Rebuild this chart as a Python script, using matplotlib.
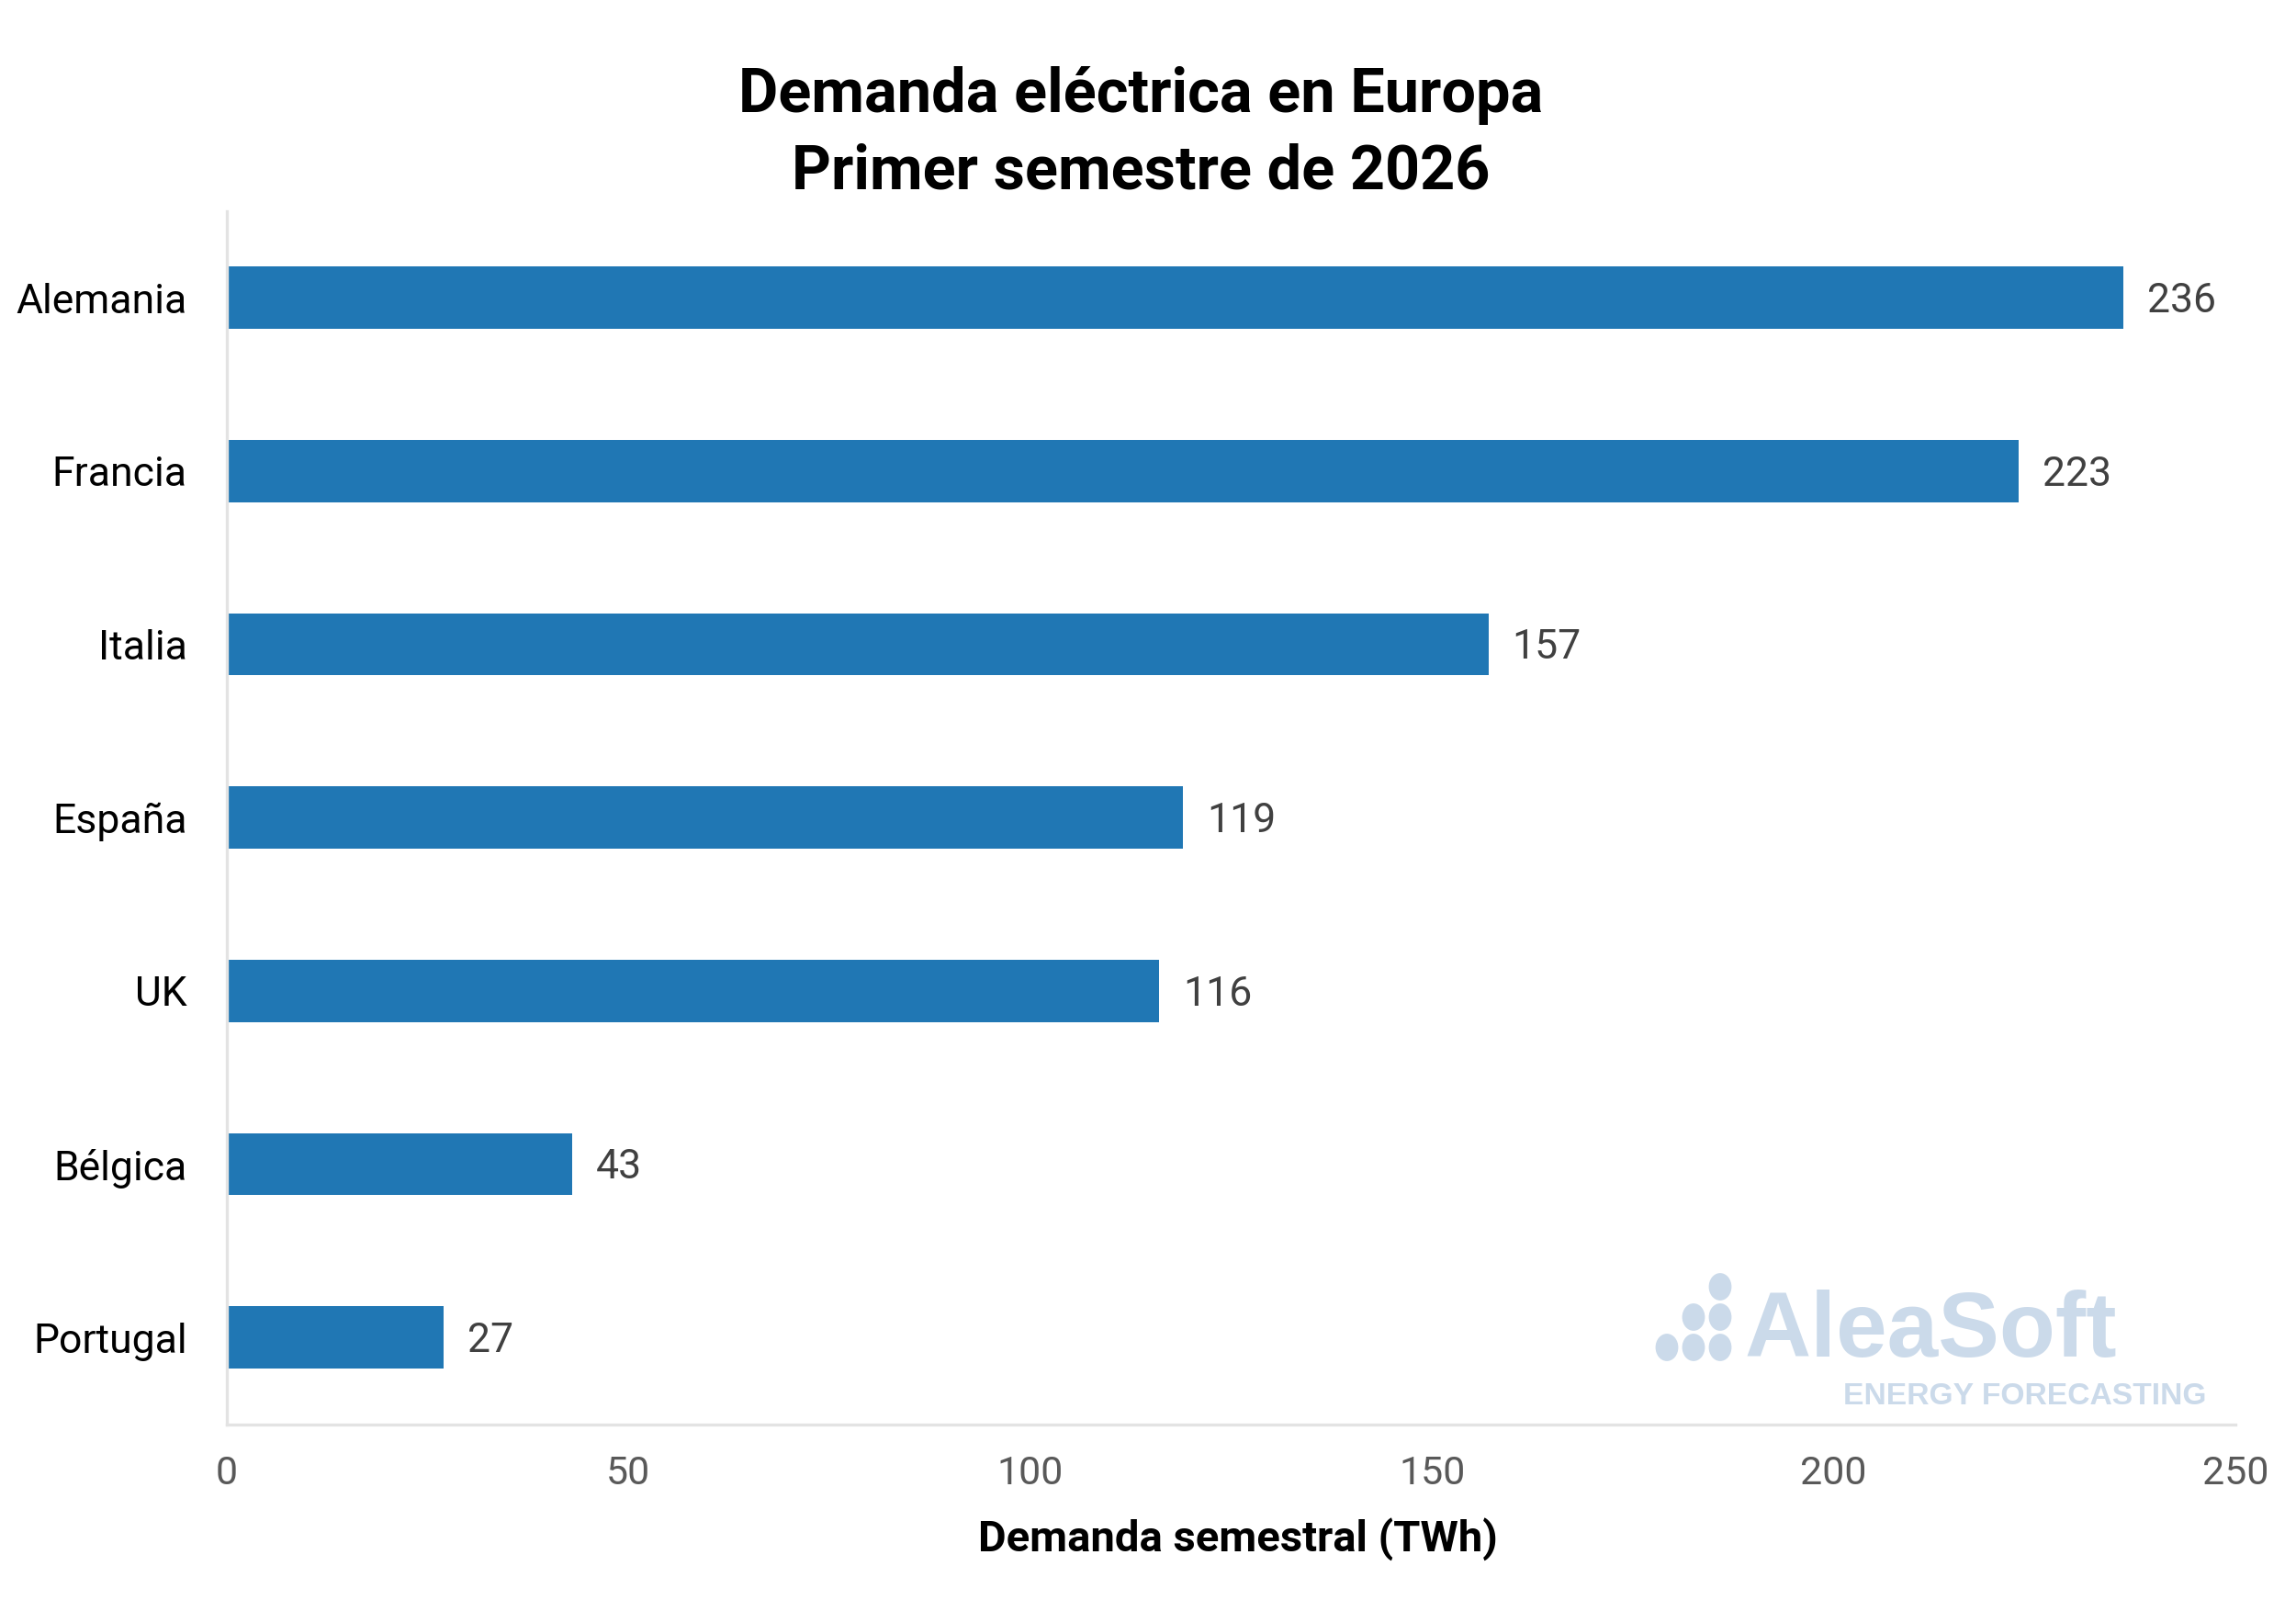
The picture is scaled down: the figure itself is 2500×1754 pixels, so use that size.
import numpy as np
import matplotlib
matplotlib.use("Agg")
import matplotlib.pyplot as plt
from matplotlib.patches import Ellipse

paises = ["Alemania", "Francia", "Italia", "España", "UK", "Bélgica", "Portugal"]
demanda = [236, 223, 157, 119, 116, 43, 27]
xticks = [0, 50, 100, 150, 200, 250]

titulo = "Demanda eléctrica en Europa\nPrimer semestre de 2026"
xlabel = "Demanda semestral (TWh)"

plt.rcParams['font.family'] = ['Roboto', 'DejaVu Sans']

fig = plt.figure(figsize=(12.5, 8.77), dpi=200)
ax = fig.add_axes([0.0987, 0.116, 0.875, 0.753])

y = np.arange(len(paises))
ax.barh(y, demanda, height=0.36, color="#2077b4", zorder=2)

for yi, v in zip(y, demanda):
    ax.text(v + 3.0, yi + 0.02, str(v), va="center", ha="left", fontsize=16, color="#404040")

ax.set_yticks(y)
ax.set_yticklabels(paises, fontsize=16, color="black")
ax.set_ylim(len(paises) - 0.5, -0.5)
ax.set_xlim(0, 250)
ax.set_xticks(xticks)
ax.set_xticklabels([str(t) for t in xticks], fontsize=15.5, color="#595959")
ax.tick_params(axis="both", length=0)
ax.tick_params(axis="x", pad=12)
ax.tick_params(axis="y", pad=15.5)

for s in ["top", "right"]:
    ax.spines[s].set_visible(False)
ax.spines["left"].set_color("#e3e3e3")
ax.spines["bottom"].set_color("#e3e3e3")
ax.spines["left"].set_linewidth(1.2)
ax.spines["bottom"].set_linewidth(1.2)

fig.text(0.497, 0.917, titulo, ha="center", va="center", fontsize=24,
         fontweight="bold", linespacing=1.38)
fig.text(0.539, 0.045, xlabel, ha="center", va="center", fontsize=17,
         fontweight="bold")

# logo
logo_c = "#cbdaea"
fig.text(0.760, 0.158, "AleaSoft", ha="left", va="baseline", fontsize=36,
         fontweight="bold", color=logo_c, family="Liberation Sans")
fig.text(0.961, 0.128, "ENERGY FORECASTING", ha="right", va="baseline", fontsize=12.1,
         fontweight="bold", color=logo_c, family="Liberation Sans")
dots = [(1815, 1467), (1844, 1467), (1873, 1467), (1844, 1434), (1873, 1434), (1873, 1401)]
for dx, dy in dots:
    fig.patches.append(Ellipse((dx / 2500, 1 - dy / 1754), 22 / 2500, 27 / 1754,
                               transform=fig.transFigure, color=logo_c, zorder=5))

fig.savefig("out.png", dpi=200)
